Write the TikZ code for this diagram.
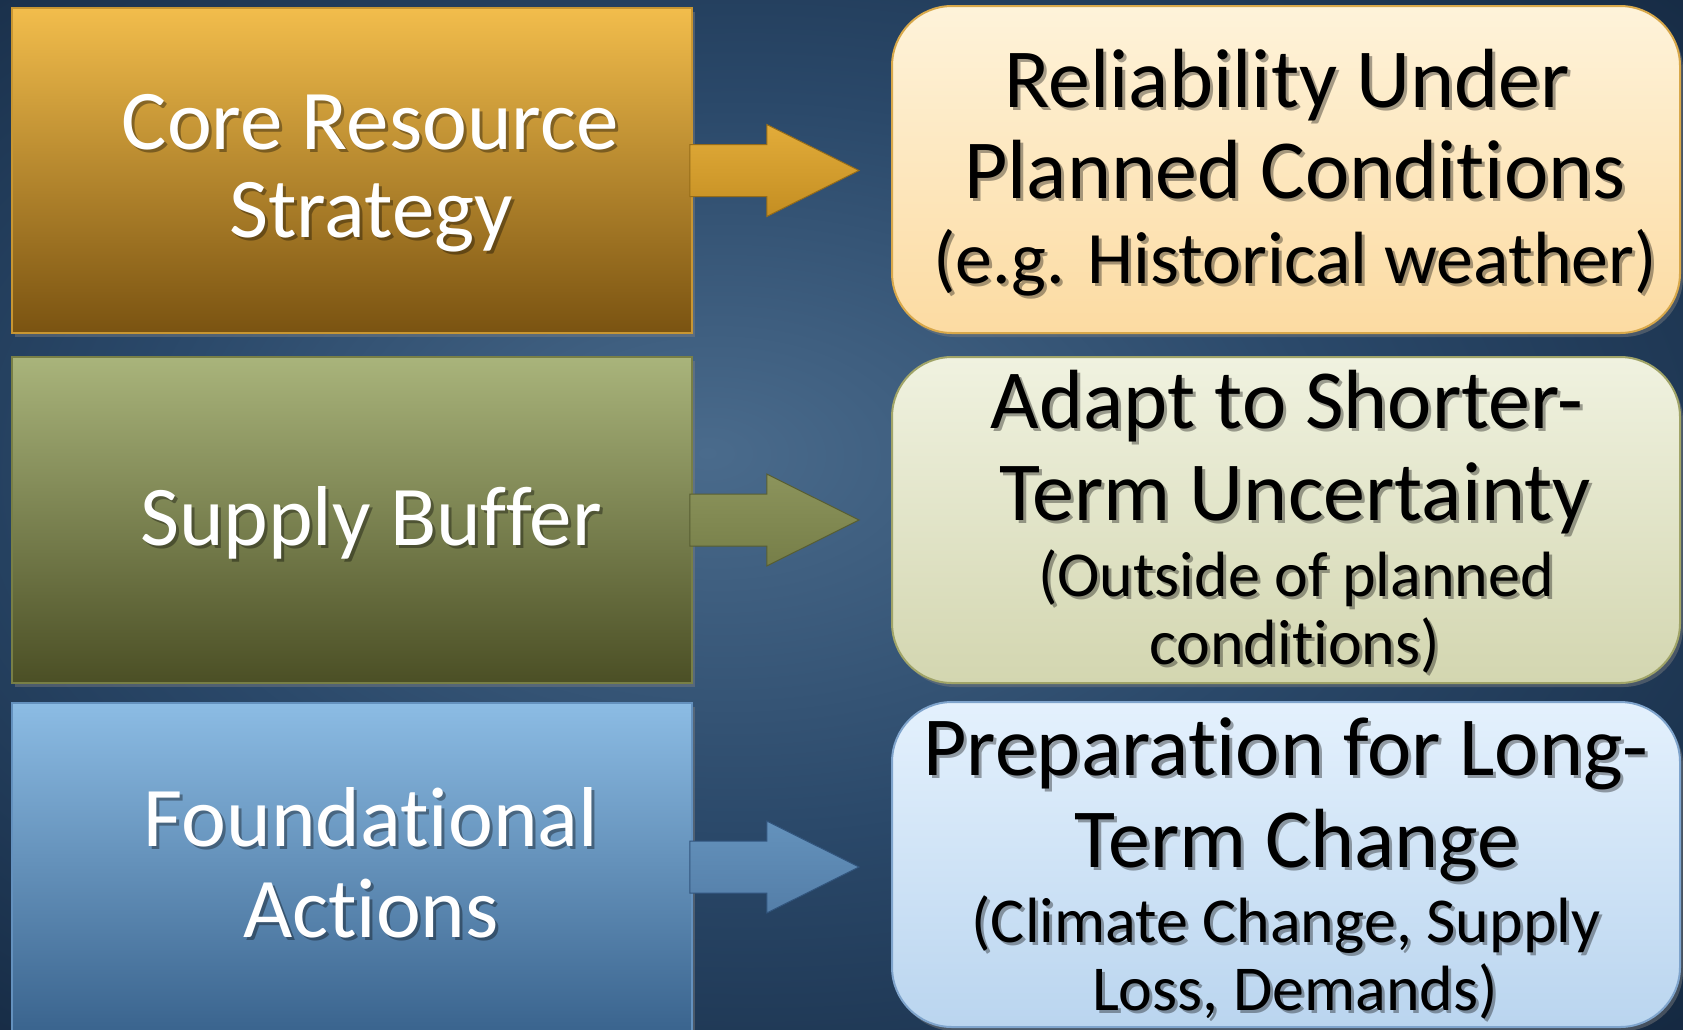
\documentclass[tikz,border=0pt]{standalone}
\usepackage{fontspec}
\setmainfont{Carlito}[Ligatures={NoCommon}]
\usetikzlibrary{calc,shadows}
\definecolor{bgdark}{HTML}{0E1F35}
\definecolor{bgmid}{HTML}{2A4869}
\definecolor{bglight}{HTML}{4A6B8C}
% left boxes
\definecolor{goldtop}{HTML}{F2BD4C}\definecolor{goldbot}{HTML}{7A5311}\definecolor{goldedge}{HTML}{C89632}
\definecolor{olivetop}{HTML}{A9B47B}\definecolor{olivebot}{HTML}{4B4F25}\definecolor{oliveedge}{HTML}{787F46}
\definecolor{bluetop}{HTML}{8CBCE4}\definecolor{bluebot}{HTML}{3A648E}\definecolor{blueedge}{HTML}{6491BE}
% right boxes
\definecolor{creamtop}{HTML}{FEF3DA}\definecolor{creambot}{HTML}{FCDBA2}\definecolor{creamedge}{HTML}{D8A84A}
\definecolor{paletop}{HTML}{F0F2E0}\definecolor{palebot}{HTML}{D3D6B0}\definecolor{paleedge}{HTML}{A0A468}
\definecolor{skytop}{HTML}{E4F1FD}\definecolor{skybot}{HTML}{BAD5EF}\definecolor{skyedge}{HTML}{7FA4CC}
% arrows
\definecolor{agtop}{HTML}{E2AC3A}\definecolor{agbot}{HTML}{C48E22}\definecolor{agedge}{HTML}{966C18}
\definecolor{aotop}{HTML}{8C945C}\definecolor{aobot}{HTML}{767E48}\definecolor{aoedge}{HTML}{585E32}
\definecolor{abtop}{HTML}{6492BC}\definecolor{abbot}{HTML}{547EA8}\definecolor{abedge}{HTML}{32557D}
\pgfdeclareradialshading{bgshade}{\pgfpoint{-4bp}{3bp}}{color(0bp)=(bglight); color(18bp)=(bgmid); color(44bp)=(bgdark); color(75bp)=(bgdark)}
\newcommand\tline[5]{%
  \node[#4, shadowtext] at (#2+3,#3+3) {#5};
  \node[#4] (#1) at (#2,#3) {#5};}
\tikzset{
  lbox/.style={rectangle, minimum width=680pt, inner sep=0, draw=#1edge, line width=1.5pt,
    top color=#1top, bottom color=#1bot,
    drop shadow={shadow xshift=3pt, shadow yshift=-4pt, opacity=.45}},
  rbox/.style={rectangle, rounded corners=60pt, minimum width=788pt, inner sep=0, draw=#1edge, line width=2pt,
    top color=#1top, bottom color=#1bot,
    drop shadow={shadow xshift=3pt, shadow yshift=-4pt, opacity=.45}},
  arrowbody/.style={top color=#1top, bottom color=#1bot, draw=#1edge, line width=1pt},
  ltext/.style={anchor=base, inner sep=0, text=white, font=\fontsize{85}{92}\selectfont},
  rbig/.style={anchor=base, inner sep=0, text=black, font=\fontsize{84}{92}\selectfont},
  rmed/.style={anchor=base, inner sep=0, text=black, font=\fontsize{74}{82}\selectfont},
  rsmall/.style={anchor=base, inner sep=0, text=black, font=\fontsize{64}{70}\selectfont},
  shadowtext/.style={text=black, opacity=.35}
}
\begin{document}
\begin{tikzpicture}[x=1pt,y=-1pt]
\useasboundingbox (0,0) rectangle (1683,1029);
\fill[bgdark] (0,0) rectangle (1683,1029);
\shade[shading=bgshade] (0,0) rectangle (1683,1029);

% left boxes
\node[lbox=gold,  minimum height=325pt] (L1) at (352,170.5) {};
\node[lbox=olive, minimum height=326pt] (L2) at (352,520) {};
\node[lbox=blue,  minimum height=328pt] (L3) at (352,867) {};

% right boxes
\node[rbox=cream, minimum height=327pt] (R1) at (1286,169.5) {};
\node[rbox=pale,  minimum height=326pt] (R2) at (1286,520) {};
\node[rbox=sky,   minimum height=325pt] (R3) at (1286,864.5) {};

% arrows
\foreach \a/\b/\c in {L1/R1/ag, L2/R2/ao, L3/R3/ab} {
  \coordinate (tip) at ($(\b.west)+(-32,0)$);
  \path[arrowbody=\c]
    ($(\a.east)+(-3,-26)$) -- ($(\a.east)+(74,-26)$) -- ($(\a.east)+(74,-46)$)
    -- (tip |- \a.east) -- ($(\a.east)+(74,46)$) -- ($(\a.east)+(74,26)$)
    -- ($(\a.east)+(-3,26)$) -- cycle;
}

% left texts
\tline{t1a}{370}{149}{ltext}{Core Resource}
\tline{t1b}{371}{237}{ltext}{Strategy}
\tline{t2a}{371}{545}{ltext}{Supply Buffer}
\tline{t3a}{371}{846}{ltext}{Foundational}
\tline{t3b}{371}{937}{ltext}{Actions}

% right texts
\tline{r1a}{1287}{107}{rbig}{Reliability Under}
\tline{r1b}{1295}{198}{rbig}{Planned Conditions}
\tline{r1c}{1295}{283}{rmed}{(e.g. Historical weather)}
\tline{r2a}{1287}{428}{rbig}{Adapt to Shorter-}
\tline{r2b}{1295}{520}{rbig}{Term Uncertainty}
\tline{r2c}{1296}{596}{rsmall}{(Outside of planned}
\tline{r2d}{1295}{664}{rsmall}{conditions)}
\tline{r3a}{1286}{775}{rbig}{Preparation for Long-}
\tline{r3b}{1297}{867}{rbig}{Term Change}
\tline{r3c}{1286}{942}{rsmall}{(Climate Change, Supply}
\tline{r3d}{1295}{1010}{rsmall}{Loss, Demands)}
\end{tikzpicture}
\end{document}
